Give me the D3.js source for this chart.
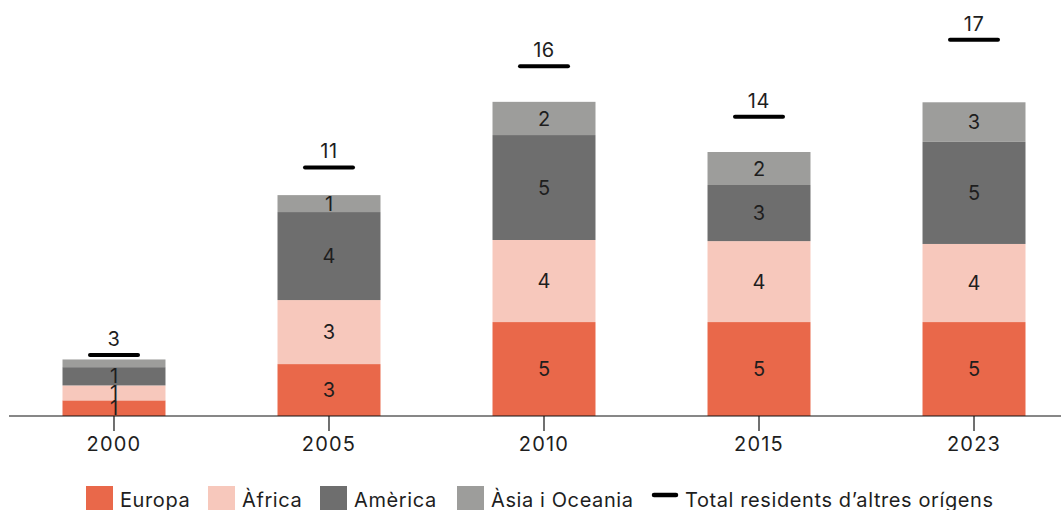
<!DOCTYPE html>
<html>
<head>
<meta charset="utf-8">
<script src="https://cdn.jsdelivr.net/npm/d3@7"></script>
<style>
  body { margin: 0; background: #fff; }
  svg { display: block; font-family: Inter, "Noto Sans", sans-serif; }
</style>
</head>
<body>
<svg id="chart" width="1061" height="510"></svg>
<script>
// years on the x axis
var years = ['2000', '2005', '2010', '2015', '2023'];

// segment heights as drawn (thousands)
var europa  = [0.71, 2.36, 4.27, 4.27, 4.27];
var africa  = [0.68, 2.91, 3.73, 3.68, 3.55];
var america = [0.83, 4.00, 4.77, 2.55, 4.64];
var asia    = [0.35, 0.77, 1.51, 1.50, 1.80];
var total   = [2.77, 11.3, 15.9, 13.6, 17.1];

// labels printed on the chart
var europaLabels  = ['1', '3', '5', '5', '5'];
var africaLabels  = ['1', '3', '4', '4', '4'];
var americaLabels = ['1', '4', '5', '3', '5'];
var asiaLabels    = ['', '1', '2', '2', '3'];
var totalLabels   = ['3', '11', '16', '14', '17'];

var seriesNames = ['Europa', 'Àfrica', 'Amèrica', 'Àsia i Oceania'];
var colors = ['#e9684a', '#f7c8bc', '#6e6e6e', '#9d9d9b'];

var svg = d3.select('#chart');
var baseY = 416;

var x = d3.scaleBand()
  .domain(years)
  .range([6.6, 1081.4])
  .paddingInner(0.521)
  .paddingOuter(0.26);

var y = d3.scaleLinear()
  .domain([0, 18])
  .range([baseY, baseY - 18 * 22]);

var rows = years.map(function(yr, i) {
  return { year: yr, Europa: europa[i], 'Àfrica': africa[i], 'Amèrica': america[i], 'Àsia i Oceania': asia[i] };
});
var labelSets = [europaLabels, africaLabels, americaLabels, asiaLabels];

var stack = d3.stack().keys(seriesNames)(rows);

var layers = svg.append('g').selectAll('g')
  .data(stack)
  .join('g')
    .attr('fill', function(d, i) { return colors[i]; });

layers.selectAll('rect')
  .data(function(d) { return d; })
  .join('rect')
    .attr('x', function(d) { return x(d.data.year); })
    .attr('y', function(d) { return y(d[1]); })
    .attr('width', x.bandwidth())
    .attr('height', function(d) { return y(d[0]) - y(d[1]); });

function styleText(sel, spacing) {
  sel.style('font-size', '20px')
    .style('letter-spacing', spacing + 'px')
    .style('fill', '#1e1e1e');
}

// value labels inside segments
stack.forEach(function(layer, li) {
  svg.append('g').selectAll('text')
    .data(layer)
    .join('text')
      .attr('x', function(d) { return x(d.data.year) + x.bandwidth() / 2; })
      .attr('y', function(d) { return (y(d[0]) + y(d[1])) / 2; })
      .attr('dy', '0.36em')
      .attr('text-anchor', 'middle')
      .call(styleText, 0)
      .text(function(d, i) { return labelSets[li][i]; });
});

// axis
var axis = svg.append('g')
  .attr('transform', 'translate(0,' + baseY + ')')
  .call(d3.axisBottom(x).tickSize(15).tickPadding(6).tickSizeOuter(0));
axis.select('.domain').remove();
axis.selectAll('.tick line').attr('stroke', '#111').attr('stroke-width', 1.2);
axis.selectAll('.tick text')
  .style('font-family', 'Inter, "Noto Sans", sans-serif')
  .call(styleText, 1.2)
  .attr('fill', '#1e1e1e');
svg.append('line')
  .attr('x1', 9).attr('x2', 1061)
  .attr('y1', baseY).attr('y2', baseY)
  .attr('stroke', '#111').attr('stroke-width', 1.2);

// total markers
var tot = svg.append('g');
tot.selectAll('line')
  .data(total)
  .join('line')
    .attr('x1', function(d, i) { return x(years[i]) + x.bandwidth() / 2 - 24; })
    .attr('x2', function(d, i) { return x(years[i]) + x.bandwidth() / 2 + 24; })
    .attr('y1', function(d) { return y(d); })
    .attr('y2', function(d) { return y(d); })
    .attr('stroke', '#000')
    .attr('stroke-width', 4)
    .attr('stroke-linecap', 'round');
tot.selectAll('text')
  .data(total)
  .join('text')
    .attr('x', function(d, i) { return x(years[i]) + x.bandwidth() / 2; })
    .attr('y', function(d) { return y(d) - 9; })
    .attr('text-anchor', 'middle')
    .call(styleText, 0.6)
    .text(function(d, i) { return totalLabels[i]; });

// legend
var legendX = [86, 208, 320, 457];
var legend = svg.append('g');
seriesNames.forEach(function(name, i) {
  legend.append('rect')
    .attr('x', legendX[i]).attr('y', 486)
    .attr('width', 27).attr('height', 27)
    .attr('fill', colors[i]);
  legend.append('text')
    .attr('x', legendX[i] + 34).attr('y', 507)
    .call(styleText, 0.6)
    .text(name);
});
legend.append('line')
  .attr('x1', 654).attr('x2', 676)
  .attr('y1', 495).attr('y2', 495)
  .attr('stroke', '#000').attr('stroke-width', 4.5)
  .attr('stroke-linecap', 'round');
legend.append('text')
  .attr('x', 685).attr('y', 507)
  .call(styleText, 0.6)
  .text('Total residents d’altres orígens');
</script>
</body>
</html>
